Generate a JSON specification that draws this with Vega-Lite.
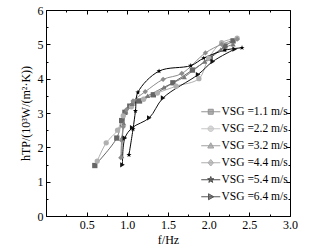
{
  "$schema": "https://vega.github.io/schema/vega-lite/v6.json",
  "width": 244,
  "height": 206,
  "autosize": {"type": "none"},
  "padding": {"left": 46, "top": 10, "right": 44, "bottom": 33},
  "background": "white",
  "config": {
    "font": "Liberation Serif",
    "view": {"stroke": null},
    "axis": {"domainColor": "black", "tickColor": "black", "labelColor": "black", "titleColor": "black", "labelFont": "Liberation Serif", "titleFont": "Liberation Serif", "labelFontSize": 12, "titleFontSize": 12, "titleFontWeight": "normal", "grid": false}
  },
  "data": {
    "values": [
      {"s": "1.1", "f": 0.6, "h": 1.47}, {"s": "1.1", "f": 0.87, "h": 2.27}, {"s": "1.1", "f": 0.93, "h": 2.78}, {"s": "1.1", "f": 0.97, "h": 3.02}, {"s": "1.1", "f": 1.03, "h": 3.2}, {"s": "1.1", "f": 1.15, "h": 3.35}, {"s": "1.1", "f": 1.32, "h": 3.53}, {"s": "1.1", "f": 1.56, "h": 3.88}, {"s": "1.1", "f": 1.8, "h": 4.25}, {"s": "1.1", "f": 2.02, "h": 4.6}, {"s": "1.1", "f": 2.2, "h": 4.95}, {"s": "1.1", "f": 2.3, "h": 5.1},
      {"s": "2.2", "f": 0.63, "h": 1.6}, {"s": "2.2", "f": 0.74, "h": 2.13}, {"s": "2.2", "f": 0.88, "h": 2.5}, {"s": "2.2", "f": 0.95, "h": 2.92}, {"s": "2.2", "f": 1.05, "h": 3.18}, {"s": "2.2", "f": 1.2, "h": 3.4}, {"s": "2.2", "f": 1.37, "h": 3.58}, {"s": "2.2", "f": 1.6, "h": 3.78}, {"s": "2.2", "f": 1.88, "h": 4.0}, {"s": "2.2", "f": 2.0, "h": 4.6}, {"s": "2.2", "f": 2.16, "h": 5.05}, {"s": "2.2", "f": 2.35, "h": 5.18},
      {"s": "3.2", "f": 0.93, "h": 1.75}, {"s": "3.2", "f": 0.94, "h": 2.3}, {"s": "3.2", "f": 0.955, "h": 2.7}, {"s": "3.2", "f": 0.98, "h": 3.05}, {"s": "3.2", "f": 1.06, "h": 3.27}, {"s": "3.2", "f": 1.25, "h": 3.5}, {"s": "3.2", "f": 1.45, "h": 3.75}, {"s": "3.2", "f": 1.7, "h": 4.05}, {"s": "3.2", "f": 1.95, "h": 4.5}, {"s": "3.2", "f": 2.15, "h": 4.85}, {"s": "3.2", "f": 2.3, "h": 5.0},
      {"s": "4.4", "f": 0.92, "h": 1.7}, {"s": "4.4", "f": 0.93, "h": 2.2}, {"s": "4.4", "f": 0.95, "h": 2.6}, {"s": "4.4", "f": 0.99, "h": 3.1}, {"s": "4.4", "f": 1.07, "h": 3.35}, {"s": "4.4", "f": 1.22, "h": 3.62}, {"s": "4.4", "f": 1.44, "h": 3.98}, {"s": "4.4", "f": 1.67, "h": 4.15}, {"s": "4.4", "f": 1.96, "h": 4.75}, {"s": "4.4", "f": 2.16, "h": 5.0}, {"s": "4.4", "f": 2.35, "h": 5.15},
      {"s": "5.4", "f": 1.02, "h": 1.78}, {"s": "5.4", "f": 1.07, "h": 2.53}, {"s": "5.4", "f": 1.1, "h": 3.06}, {"s": "5.4", "f": 1.13, "h": 3.6}, {"s": "5.4", "f": 1.39, "h": 4.22}, {"s": "5.4", "f": 1.78, "h": 4.38}, {"s": "5.4", "f": 1.94, "h": 4.6}, {"s": "5.4", "f": 2.2, "h": 4.83}, {"s": "5.4", "f": 2.41, "h": 4.9},
      {"s": "6.4", "f": 0.94, "h": 1.49}, {"s": "6.4", "f": 0.97, "h": 2.27}, {"s": "6.4", "f": 1.06, "h": 2.57}, {"s": "6.4", "f": 1.27, "h": 2.86}, {"s": "6.4", "f": 1.44, "h": 3.44}, {"s": "6.4", "f": 1.87, "h": 4.12}, {"s": "6.4", "f": 2.05, "h": 4.5}, {"s": "6.4", "f": 2.32, "h": 4.86}
    ]
  },
  "layer": [
    {
      "mark": {"type": "line", "interpolate": "catmull-rom", "strokeWidth": 1},
      "encoding": {
        "x": {"field": "f", "type": "quantitative", "scale": {"domain": [0, 3], "nice": false, "zero": false},
          "axis": {"orient": "bottom", "title": "f/Hz", "titlePadding": 2, "values": [0,0.25,0.5,0.75,1,1.25,1.5,1.75,2,2.25,2.5,2.75,3], "labelExpr": "datum.value > 0 && (datum.value*2)%1 == 0 ? format(datum.value, '.1f') : ''", "tickSize": {"condition": {"test": "(datum.value*2)%1 == 0", "value": -4}, "value": -2}, "labelPadding": 7, "labelFlush": false, "labelOverlap": false}},
        "y": {"field": "h", "type": "quantitative", "scale": {"domain": [0, 6], "nice": false, "zero": false},
          "axis": {"orient": "left", "title": "hTP/(10³W/(m²·K))", "titlePadding": 5, "values": [0,0.5,1,1.5,2,2.5,3,3.5,4,4.5,5,5.5,6], "labelExpr": "datum.value % 1 == 0 ? format(datum.value, 'd') : ''", "tickSize": {"condition": {"test": "datum.value % 1 == 0", "value": -4}, "value": -2}, "labelPadding": 7, "labelFlush": false, "labelOverlap": false}},
        "color": {"field": "s", "type": "nominal", "scale": {"domain": ["1.1","2.2","3.2","4.4","5.4","6.4"], "range": ["#666666","#b0b0b0","#777777","#8c8c8c","#000000","#111111"]}, "legend": null},
        "detail": {"field": "s"}
      }
    },
    {
      "mark": {"type": "point", "filled": true, "opacity": 1},
      "encoding": {
        "x": {"field": "f", "type": "quantitative", "scale": {"domain": [0, 3], "nice": false}, "axis": null},
        "y": {"field": "h", "type": "quantitative", "scale": {"domain": [0, 6], "nice": false}, "axis": null},
        "color": {"field": "s", "type": "nominal", "scale": {"domain": ["1.1","2.2","3.2","4.4","5.4","6.4"], "range": ["#666666","#b0b0b0","#777777","#8c8c8c","#000000","#111111"]}, "legend": null},
        "shape": {"field": "s", "type": "nominal", "scale": {"domain": ["1.1","2.2","3.2","4.4","5.4","6.4"], "range": ["square","circle","triangle-up","diamond","M0,-1L0.235,-0.324L0.951,-0.309L0.380,0.124L0.588,0.809L0,0.4L-0.588,0.809L-0.380,0.124L-0.951,-0.309L-0.235,-0.324Z","triangle-right"]}, "legend": null},
        "size": {"value": 28}
      }
    },
    {
      "mark": {"type": "point", "opacity": 0},
      "encoding": {
        "x": {"field": "f", "type": "quantitative", "scale": {"domain": [0, 3], "nice": false},
          "axis": {"orient": "top", "title": null, "labels": false, "values": [0,0.25,0.5,0.75,1,1.25,1.5,1.75,2,2.25,2.5,2.75,3], "tickSize": {"condition": {"test": "(datum.value*2)%1 == 0", "value": -4}, "value": -2}}},
        "y": {"field": "h", "type": "quantitative", "scale": {"domain": [0, 6], "nice": false},
          "axis": {"orient": "right", "title": null, "labels": false, "values": [0,0.5,1,1.5,2,2.5,3,3.5,4,4.5,5,5.5,6], "tickSize": {"condition": {"test": "datum.value % 1 == 0", "value": -4}, "value": -2}}}
      }
    },
    {
      "mark": {"type": "point", "filled": true, "size": 0, "strokeWidth": 1},
      "encoding": {
        "x": {"field": "f", "type": "quantitative", "scale": {"domain": [0, 3], "nice": false}, "axis": null},
        "y": {"field": "h", "type": "quantitative", "scale": {"domain": [0, 6], "nice": false}, "axis": null},
        "color": {"field": "s", "type": "nominal", "scale": {"domain": ["1.1","2.2","3.2","4.4","5.4","6.4"], "range": ["#666666","#b0b0b0","#777777","#8c8c8c","#000000","#111111"]},
          "legend": {"orient": "none", "legendX": 159, "legendY": 96, "title": null, "symbolSize": 100, "symbolStrokeWidth": 1, "labelOffset": 5, "rowPadding": 4, "labelFontSize": 11.5, "labelFont": "Liberation Serif", "labelColor": "black", "padding": 0, "symbolOpacity": 1, "labelExpr": "'VSG =' + datum.label + ' m/s'"}},
        "stroke": {"field": "s", "type": "nominal", "scale": {"domain": ["1.1","2.2","3.2","4.4","5.4","6.4"], "range": ["#666666","#b0b0b0","#777777","#8c8c8c","#000000","#111111"]}},
        "shape": {"field": "s", "type": "nominal", "scale": {"domain": ["1.1","2.2","3.2","4.4","5.4","6.4"], "range": [
          "M-1.9,0H1.9M-0.5,-0.5H0.5V0.5H-0.5Z",
          "M-1.9,0H1.9M0.55,0A0.55,0.55,0,1,1,-0.55,0A0.55,0.55,0,1,1,0.55,0Z",
          "M-1.9,0H1.9M0,-0.6L0.6,0.45H-0.6Z",
          "M-1.9,0H1.9M0,-0.65L0.55,0L0,0.65L-0.55,0Z",
          "M-1.9,0H1.9M0,-0.65L0.153,-0.211L0.618,-0.201L0.247,0.081L0.382,0.526L0,0.26L-0.382,0.526L-0.247,0.081L-0.618,-0.201L-0.153,-0.211Z",
          "M-1.9,0H1.9M0.6,0L-0.45,0.6V-0.6Z"
        ]}}
      }
    }
  ],
  "resolve": {"scale": {"color": "independent", "shape": "independent", "stroke": "independent"}, "axis": {"x": "independent", "y": "independent"}}
}
